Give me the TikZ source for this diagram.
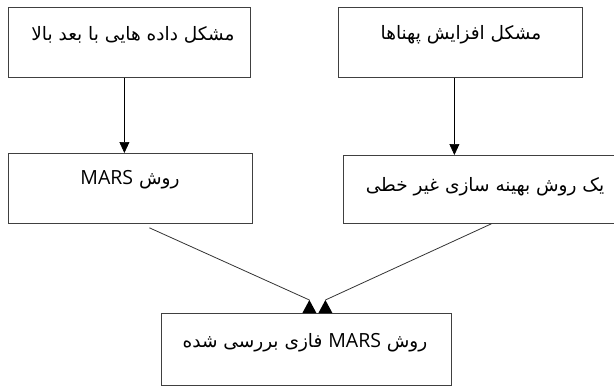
\documentclass[tikz,border=0pt]{standalone}
\usepackage{fontspec}
\TeXXeTstate=1
\newfontfamily\arabicfont[Script=Arabic]{DejaVu Sans}
\newfontfamily\latinfont{Open Sans}
\newcommand\mars{\beginL{\latinfont\fontsize{19.5}{22}\selectfont MARS}\endL}
\usetikzlibrary{arrows.meta}
\begin{document}
\begin{tikzpicture}[x=1pt,y=-1pt,
  box/.style={draw=black!75, line width=0.8pt, inner sep=0pt, anchor=north west},
  lbl/.style={font=\arabicfont\fontsize{18.5}{22}\selectfont, inner sep=0pt},
  arr/.style={draw=black, line width=0.7pt, -{Triangle[width=10pt,length=11pt]}},
  ln/.style={draw=black!80, line width=0.8pt},
  tipfill/.style={fill=black}]
\useasboundingbox (0,0) rectangle (614,386);
\node[box, minimum width=242pt, minimum height=70pt] (b1) at (8,7) {};
\node[box, minimum width=244pt, minimum height=70pt] (b2) at (338,7) {};
\node[box, minimum width=244pt, minimum height=70pt] (b3) at (8,153) {};
\node[box, minimum width=280pt, minimum height=68pt] (b4) at (343,155) {};
\node[box, minimum width=290pt, minimum height=72pt] (b5) at (161,313) {};
\node[lbl] (t1) at (133,35) {\beginR مشکل داده هایی با بعد بالا\endR};
\node[lbl] (t2) at (461,35) {\beginR مشکل افزایش پهناها\endR};
\node[lbl] (t3) at (130,180) {\beginR روش \mars\endR};
\node[lbl] (t4) at (485,187) {\beginR یک روش بهینه سازی غیر خطی\endR};
\node[lbl] (t5) at (305,343) {\beginR روش \mars{} فازی بررسی شده\endR};
\draw[arr] ([xshift=-5pt]b1.south) -- ([xshift=-6pt]b3.north);
\draw[arr] ([xshift=-6pt]b2.south) -- ([xshift=-29pt]b4.north);
\coordinate (c1) at ([xshift=3pt,yshift=13pt]b5.north);
\coordinate (c2) at ([xshift=19pt,yshift=13pt]b5.north);
\draw[ln] ([xshift=19pt,yshift=-4pt]b3.south) -- (c1);
\draw[ln] ([xshift=8pt]b4.south) -- (c2);
\fill[tipfill] (c1) -- ++(-7,13) -- ++(14,0) -- cycle;
\fill[tipfill] (c2) -- ++(-7,13) -- ++(14,0) -- cycle;
\end{tikzpicture}
\end{document}
